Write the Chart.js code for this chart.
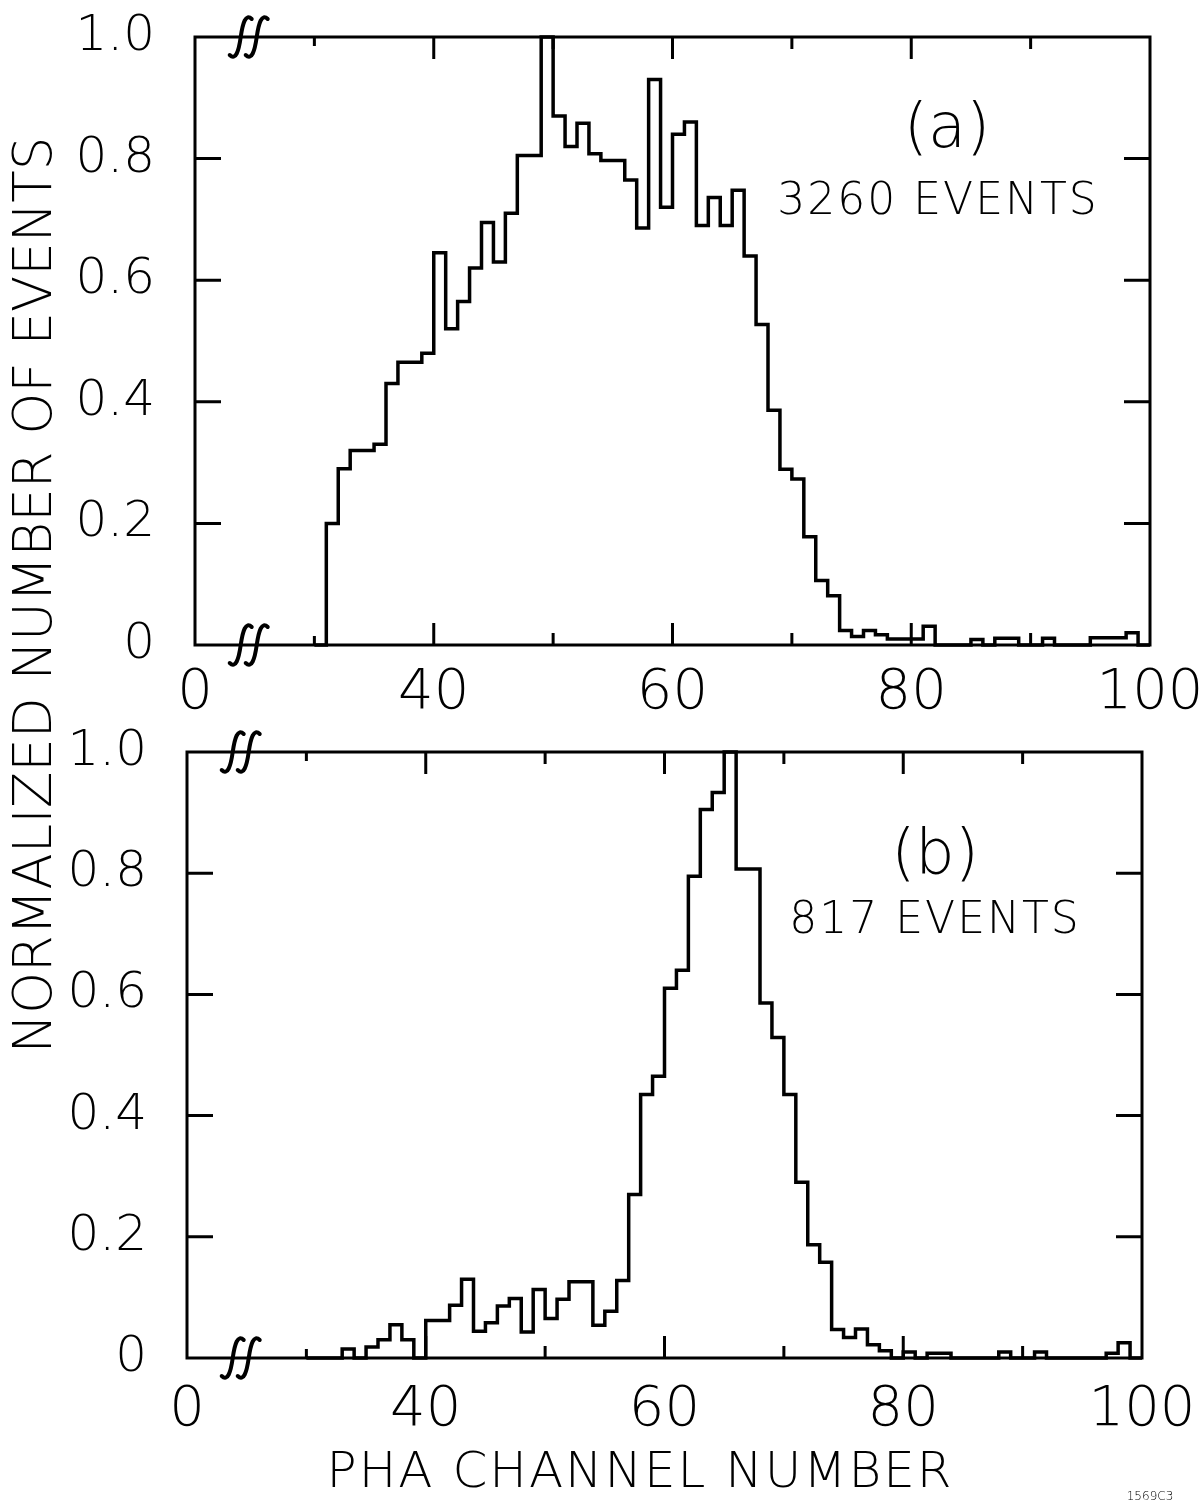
<!DOCTYPE html>
<html>
<head>
<meta charset="utf-8">
<title>PHA channel spectra</title>
<script src="https://cdn.jsdelivr.net/npm/chart.js@4.4.1/dist/chart.umd.min.js"></script>
<style>
    body { margin: 0; background: #fff; }
    #page { position: relative; width: 1204px; height: 1509px; }
    #page canvas { position: absolute; left: 0; top: 0; }
</style>
</head>
<body>
<div id="page">
    <canvas id="panelA" width="1204" height="1509"></canvas>
    <canvas id="panelB" width="1204" height="1509"></canvas>
</div>
<script>
// one bin per PHA channel, the value of channel k is drawn from k to k+1
var channelsA = [30, 31, 32, 33, 34, 35, 36, 37, 38, 39,
                 40, 41, 42, 43, 44, 45, 46, 47, 48, 49,
                 50, 51, 52, 53, 54, 55, 56, 57, 58, 59,
                 60, 61, 62, 63, 64, 65, 66, 67, 68, 69,
                 70, 71, 72, 73, 74, 75, 76, 77, 78, 79,
                 80, 81, 82, 83, 84, 85, 86, 87, 88, 89,
                 90, 91, 92, 93, 94, 95, 96, 97, 98, 99];
var eventsA = [0, 0.20, 0.29, 0.32, 0.32, 0.33, 0.43, 0.465, 0.465, 0.48,
               0.645, 0.52, 0.565, 0.62, 0.695, 0.63, 0.71, 0.805, 0.805, 1.0,
               0.87, 0.82, 0.858, 0.808, 0.797, 0.797, 0.765, 0.686, 0.93, 0.72,
               0.84, 0.86, 0.69, 0.736, 0.69, 0.748, 0.64, 0.527, 0.386, 0.289,
               0.273, 0.178, 0.106, 0.081, 0.024, 0.014, 0.024, 0.017, 0.01, 0.01,
               0.01, 0.031, 0, 0, 0, 0.009, 0, 0.011, 0.011, 0,
               0, 0.011, 0, 0, 0, 0.012, 0.012, 0.012, 0.02, 0];

var channelsB = channelsA;
var eventsB = [0, 0, 0, 0.015, 0, 0.018, 0.03, 0.055, 0.03, 0,
               0.062, 0.062, 0.087, 0.13, 0.044, 0.058, 0.086, 0.098, 0.043, 0.113,
               0.065, 0.097, 0.126, 0.126, 0.054, 0.077, 0.128, 0.27, 0.435, 0.465,
               0.61, 0.64, 0.795, 0.905, 0.933, 1.0, 0.807, 0.807, 0.586, 0.529,
               0.435, 0.29, 0.187, 0.158, 0.047, 0.034, 0.048, 0.022, 0.012, 0,
               0.01, 0, 0.008, 0.008, 0, 0, 0, 0, 0.01, 0,
               0, 0.01, 0, 0, 0, 0, 0, 0.008, 0.025, 0];

var xLabels = [20, 40, 60, 80, 100];   // 20 sits right after the axis break, printed as 0
var xMajor = [40, 60, 80];
var xMinor = [30, 50, 70, 90];
var yTicks = [0.2, 0.4, 0.6, 0.8];

var textFont = '"DejaVu Sans", sans-serif';
var textWeight = '200';

Chart.defaults.color = '#000';

function histPoints(channels, values) {
    var pts = channels.map(function (c, i) { return { x: c, y: values[i] }; });
    pts.push({ x: channels[channels.length - 1] + 1, y: 0 });
    return pts;
}

function breakMark(ctx, cx, cy) {
    ctx.beginPath();
    ctx.moveTo(cx - 11, cy + 18);
    ctx.bezierCurveTo(cx - 5, cy + 24, cx - 2, cy + 14, cx, cy);
    ctx.bezierCurveTo(cx + 2, cy - 14, cx + 5, cy - 24, cx + 11, cy - 18);
    ctx.stroke();
}

function framePlugin(cfg) {
    return {
        id: 'frame',
        afterDatasetsDraw: function (chart) {
            var ctx = chart.ctx, a = chart.chartArea;
            var xs = chart.scales.x, ys = chart.scales.y;
            ctx.save();
            ctx.strokeStyle = '#000';
            ctx.lineWidth = 3;
            ctx.strokeRect(a.left, a.top, a.right - a.left, a.bottom - a.top);

            ctx.beginPath();
            xMajor.forEach(function (v) {
                var px = xs.getPixelForValue(v);
                ctx.moveTo(px, a.bottom); ctx.lineTo(px, a.bottom - 22);
                ctx.moveTo(px, a.top); ctx.lineTo(px, a.top + 22);
            });
            xMinor.forEach(function (v) {
                var px = xs.getPixelForValue(v);
                var len = v === 30 ? 9 : 12;
                ctx.moveTo(px, a.bottom); ctx.lineTo(px, a.bottom - len);
                ctx.moveTo(px, a.top); ctx.lineTo(px, a.top + len);
            });
            yTicks.forEach(function (v) {
                var py = ys.getPixelForValue(v);
                ctx.moveTo(a.left, py); ctx.lineTo(a.left + 26, py);
                ctx.moveTo(a.right, py); ctx.lineTo(a.right - 26, py);
            });
            ctx.stroke();

            var bx = xs.getPixelForValue(cfg.breakAt);
            ctx.lineWidth = 4;
            ctx.lineCap = 'round';
            [a.top, a.bottom].forEach(function (y) {
                breakMark(ctx, bx - 8, y);
                breakMark(ctx, bx + 8, y);
            });
            ctx.restore();
        },
        afterDraw: function (chart) {
            var ctx = chart.ctx;
            ctx.save();
            ctx.fillStyle = '#000';
            ctx.textAlign = 'center';
            ctx.textBaseline = 'middle';
            cfg.texts.forEach(function (t) {
                ctx.save();
                ctx.font = textWeight + ' ' + t.size + 'px ' + textFont;
                if (t.spacing) ctx.letterSpacing = t.spacing + 'px';
                ctx.translate(t.x, t.y);
                if (t.rotate) ctx.rotate(t.rotate);
                ctx.fillText(t.text, 0, 0);
                ctx.restore();
            });
            ctx.restore();
        }
    };
}

function makePanel(id, channels, values, area, cfg) {
    var canvas = document.getElementById(id);
    return new Chart(canvas, {
        type: 'line',
        data: {
            datasets: [{
                data: histPoints(channels, values),
                stepped: true,
                borderColor: '#000',
                borderWidth: 3.5,
                pointRadius: 0,
                fill: false,
                clip: false
            }]
        },
        options: {
            responsive: false,
            animation: false,
            devicePixelRatio: 1,
            layout: { padding: { left: 0, top: area.top, right: canvas.width - area.right, bottom: 0 } },
            plugins: { legend: { display: false }, tooltip: { enabled: false } },
            scales: {
                x: {
                    type: 'linear',
                    min: 20,
                    max: 100,
                    grid: { display: false, drawTicks: false },
                    border: { display: false },
                    afterBuildTicks: function (s) {
                        s.ticks = xLabels.map(function (v) { return { value: v }; });
                    },
                    afterFit: function (s) {
                        s.height = canvas.height - area.bottom;
                        s.paddingLeft = 0;
                        s.paddingRight = 0;
                    },
                    ticks: {
                        autoSkip: false,
                        maxRotation: 0,
                        padding: cfg.xPad,
                        font: { family: textFont, size: 56, weight: textWeight },
                        callback: function (v) { return v === 20 ? '0' : String(v); }
                    }
                },
                y: {
                    min: 0,
                    max: 1,
                    grid: { display: false, drawTicks: false },
                    border: { display: false },
                    afterFit: function (s) {
                        s.width = area.left;
                        s.paddingTop = 0;
                        s.paddingBottom = 0;
                    },
                    ticks: {
                        stepSize: 0.2,
                        padding: 40,
                        font: { family: textFont, size: 50, weight: textWeight },
                        callback: function (v) { return v === 0 ? '0' : v.toFixed(1); }
                    }
                }
            }
        },
        plugins: [framePlugin(cfg)]
    });
}

makePanel('panelA', channelsA, eventsA,
    { left: 195, right: 1150, top: 37, bottom: 645 },
    {
        breakAt: 24.5,
        xPad: 15,
        texts: [
            { text: '(a)', x: 947, y: 131, size: 62 },
            { text: '3260 EVENTS', x: 938, y: 203, size: 44, spacing: 2 },
            { text: 'NORMALIZED NUMBER OF EVENTS', x: 37, y: 595, size: 53, rotate: -Math.PI / 2 }
        ]
    });

makePanel('panelB', channelsB, eventsB,
    { left: 187, right: 1142, top: 752, bottom: 1358 },
    {
        breakAt: 24.5,
        xPad: 19,
        texts: [
            { text: '(b)', x: 935, y: 857, size: 62 },
            { text: '817 EVENTS', x: 935, y: 922, size: 44, spacing: 2 },
            { text: 'PHA CHANNEL NUMBER', x: 640, y: 1474, size: 50, spacing: 2 },
            { text: '1569C3', x: 1150, y: 1497, size: 12 }
        ]
    });
</script>
</body>
</html>
